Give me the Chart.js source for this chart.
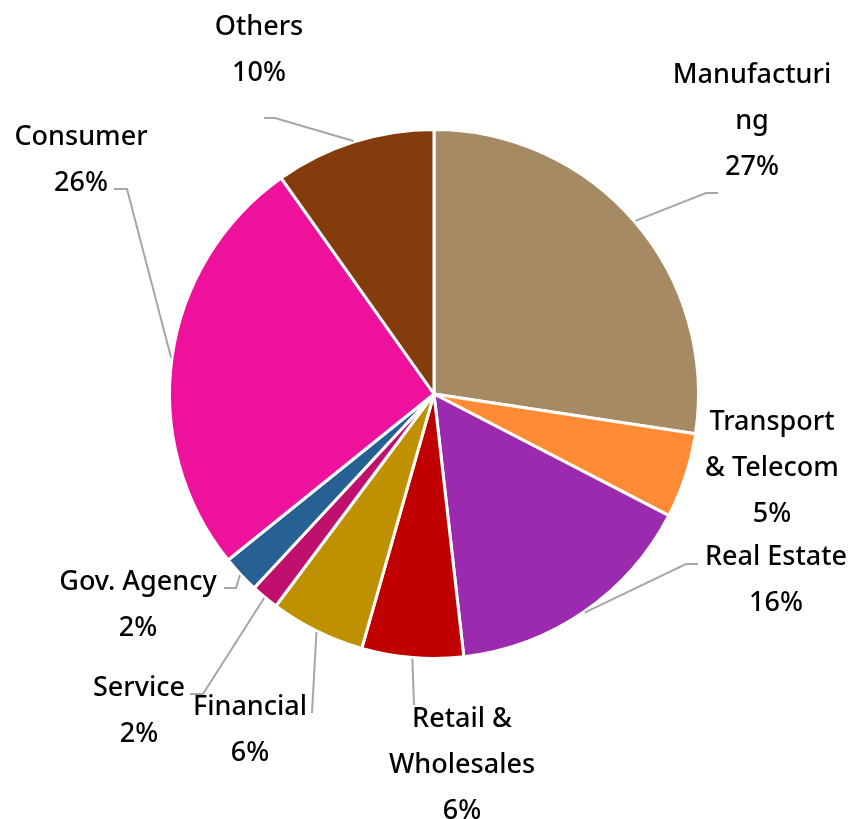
<!DOCTYPE html>
<html><head><meta charset="utf-8">
<script src="https://cdn.jsdelivr.net/npm/chart.js@4"></script>
<style>html,body{margin:0;padding:0;background:#fff}#wrap{width:848px;height:819px}</style>
</head><body><div id="wrap"><canvas id="c" width="848" height="819"></canvas></div>
<script>
// ---- data ----
const categories = ["Manufacturing","Transport & Telecom","Real Estate","Retail & Wholesales","Financial","Service","Gov. Agency","Consumer","Others"];
const labelLines = [["Manufacturi","ng"],["Transport","& Telecom"],["Real Estate"],["Retail &","Wholesales"],["Financial"],["Service"],["Gov. Agency"],["Consumer"],["Others"]];
const shares = [27.4, 5.2, 15.6, 6.2, 5.8, 1.7, 2.3, 26.0, 9.8];
const sliceColors = ["#A68A64","#FF8C35","#9C2AAE","#C00000","#BF9000","#C0106E","#276092","#EE119B","#843C0C"];

// ---- layout (label anchors and leader elbows, px) ----
const labelPos = [[752,75],[772,422],[776,557],[462,719],[250,707],[139,688],[138,582],[81,137],[259,27]];
const leaderPts = [[[706,193],[718,193]], null, [[686,564],[698,564]], [[414,705]], [[312,713]], [[203,694],[190,694]], [[236,588],[224,588]], [[127,189],[114,189]], [[275,118],[264,118]]];
const LINE_H = 46;
const FONT = '500 27px "Noto Sans", "Open Sans", sans-serif';

const labelPlugin = {
  id: 'outLabels',
  afterDatasetsDraw(chart) {
    const ctx = chart.ctx;
    const meta = chart.getDatasetMeta(0);
    const ds = chart.data.datasets[0].data;
    const total = ds.reduce((a,b)=>a+b,0);
    ctx.save();
    meta.data.forEach((arc, i) => {
      const p = arc.getProps(['x','y','startAngle','endAngle','outerRadius'], true);
      const mid = (p.startAngle + p.endAngle) / 2;
      const r = p.outerRadius + 1;
      const ex = p.x + Math.cos(mid) * r, ey = p.y + Math.sin(mid) * r;
      if (leaderPts[i]) {
        ctx.beginPath();
        ctx.strokeStyle = '#A6A6A6';
        ctx.lineWidth = 2;
        ctx.moveTo(ex, ey);
        leaderPts[i].forEach(pt => ctx.lineTo(pt[0], pt[1]));
        ctx.stroke();
      }
      const lines = labelLines[i].concat([Math.round(ds[i] / total * 100) + '%']);
      ctx.fillStyle = '#000';
      ctx.font = FONT;
      ctx.textAlign = 'center';
      ctx.textBaseline = 'middle';
      lines.forEach((t, k) => ctx.fillText(t, labelPos[i][0], labelPos[i][1] + k * LINE_H));
    });
    ctx.restore();
  }
};

new Chart(document.getElementById('c'), {
  type: 'pie',
  data: {
    labels: categories,
    datasets: [{ data: shares, backgroundColor: sliceColors, borderColor: '#ffffff', borderWidth: 3 }]
  },
  options: {
    responsive: false,
    animation: false,
    devicePixelRatio: 1,
    layout: { padding: { left: 168, right: 148, top: 128, bottom: 159 } },
    plugins: { legend: { display: false }, tooltip: { enabled: false } }
  },
  plugins: [labelPlugin]
});
</script>
</body></html>
